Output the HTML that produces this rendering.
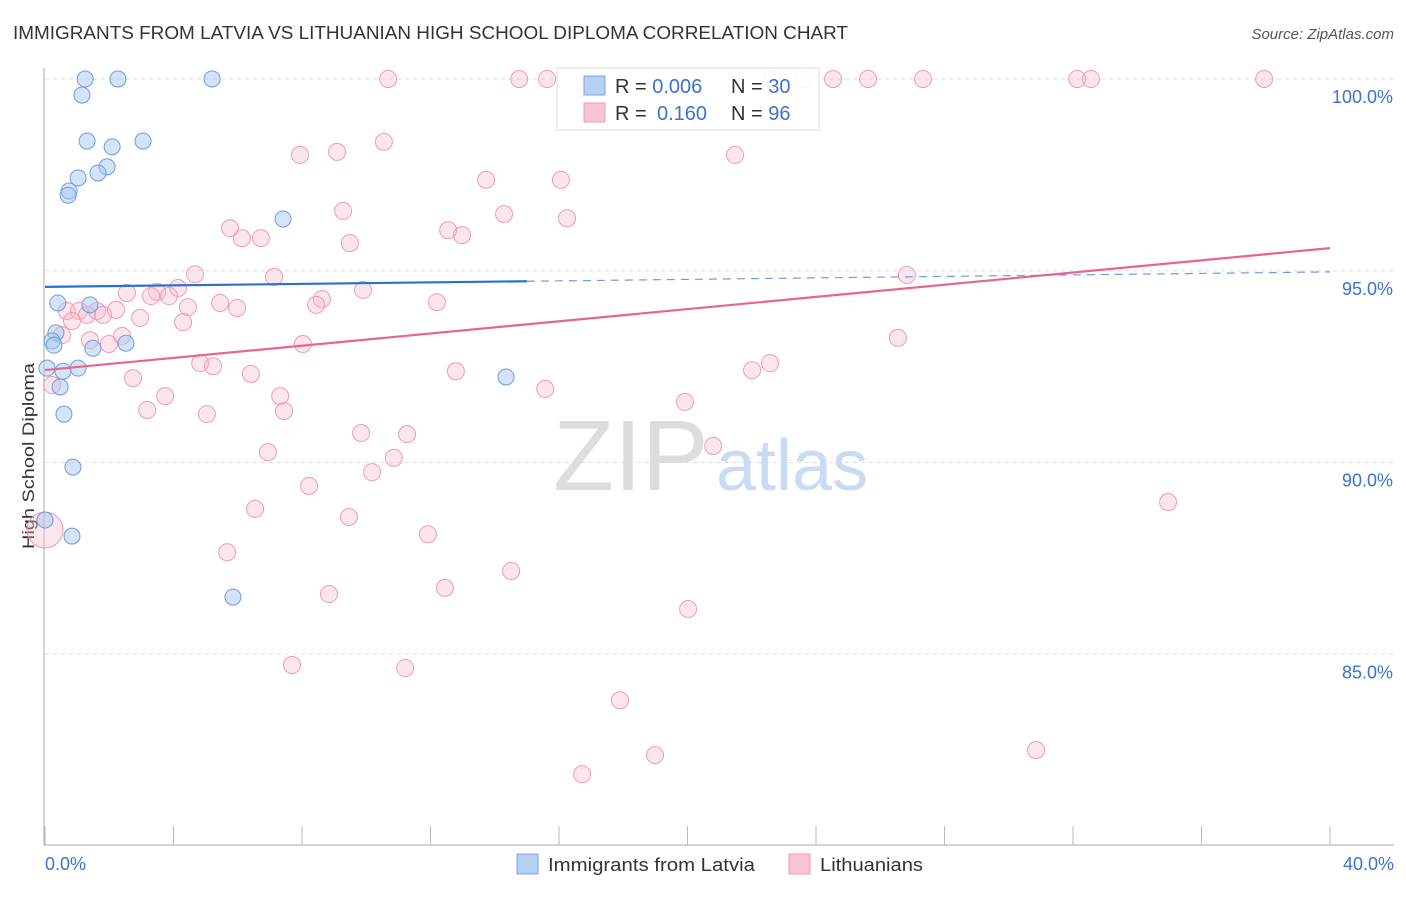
<!DOCTYPE html>
<html><head><meta charset="utf-8"><style>
body{margin:0;background:#fff;font-family:"Liberation Sans",sans-serif;}
svg text{font-family:"Liberation Sans",sans-serif;}
</style></head><body>
<svg id="chart" width="1406" height="892" xmlns="http://www.w3.org/2000/svg">
<text x="13" y="39" font-size="18" fill="#333" textLength="835" lengthAdjust="spacingAndGlyphs">IMMIGRANTS FROM LATVIA VS LITHUANIAN HIGH SCHOOL DIPLOMA CORRELATION CHART</text>
<text x="1394" y="39" font-size="15" fill="#555" text-anchor="end" font-style="italic">Source: ZipAtlas.com</text>
<text transform="translate(34,456) rotate(-90)" font-size="17" fill="#333" text-anchor="middle" textLength="186" lengthAdjust="spacingAndGlyphs">High School Diploma</text>
<g id="grid"></g>
<text x="553" y="490" font-size="100" fill="#ddd" font-family="Liberation Serif">ZIP</text>
<text x="716" y="490" font-size="72" fill="#c9daf2">atlas</text>
<g id="axes"></g>
<g id="marks"></g>
<g id="trends"></g>
<g>
<rect x="557" y="68" width="262" height="62" fill="#fff" fill-opacity="0.9" stroke="#ddd"/>
<rect x="584" y="76" width="21" height="19" fill="#b6d0f3" stroke="#7aa6e0"/>
<rect x="584" y="103" width="21" height="19" fill="#fac4d4" stroke="#f09ab5"/>
<text x="615" y="93" font-size="20" fill="#333">R = <tspan fill="#3b72d0">0.006</tspan><tspan x="731">N = </tspan><tspan fill="#3b72d0">30</tspan></text>
<text x="615" y="120" font-size="20" fill="#333">R = <tspan x="657" fill="#3b72d0">0.160</tspan><tspan x="731">N = </tspan><tspan fill="#3b72d0">96</tspan></text>
</g>
<g>
<rect x="517" y="854" width="21" height="20" fill="#b6d0f3" stroke="#7aa6e0"/>
<text x="548" y="871" font-size="18" fill="#333" textLength="207" lengthAdjust="spacingAndGlyphs">Immigrants from Latvia</text>
<rect x="789" y="854" width="21" height="20" fill="#fac4d4" stroke="#f09ab5"/>
<text x="820" y="871" font-size="18" fill="#333" textLength="103" lengthAdjust="spacingAndGlyphs">Lithuanians</text>
</g>
</svg>
<script>
const blueX=[1.25,2.27,5.2,1.15,1.31,3.05,2.09,1.93,1.65,1.03,0.75,0.72,7.41,0.4,1.4,0.34,0.22,0.28,1.49,2.52,0.56,1.03,0.47,0.59,0.87,0.84,0,14.35,5.85,0.06];
const blueY=[100,100,100,99.58,98.38,98.38,98.23,97.71,97.55,97.42,97.08,96.97,96.35,94.16,94.11,93.38,93.17,93.06,92.98,93.11,92.38,92.46,91.97,91.26,89.88,88.08,88.5,92.23,86.49,92.46];
const pinkX=[10.68,14.76,15.63,22.63,23.6,24.53,25.62,27.33,32.13,32.56,37.95,10.55,7.94,9.09,21.48,13.73,16.06,9.28,14.29,16.25,5.76,12.55,12.98,6.13,6.72,9.49,4.67,7.13,26.83,2.55,4.14,3.49,3.3,3.86,8.62,9.9,12.2,5.45,5.98,4.45,8.44,0.68,1.06,1.31,1.62,1.81,2.21,2.96,0.84,4.3,0.53,1.4,1.99,2.4,8.03,26.55,4.83,5.23,6.41,2.74,12.79,22.01,22.57,15.57,0.22,3.74,7.32,3.18,5.04,7.44,19.92,9.84,11.27,20.8,6.94,10.86,10.18,8.22,6.54,9.46,34.96,11.92,5.67,14.51,12.45,8.84,20.02,7.69,11.21,17.9,18.99,30.85,16.72,0];
const pinkY=[100,100,100,100,100,100,100,100,100,100,100,98.36,98.02,98.1,98.02,97.37,97.37,96.56,96.48,96.37,96.11,96.06,95.93,95.85,95.85,95.72,94.91,94.84,94.89,94.42,94.55,94.45,94.34,94.34,94.26,94.5,94.18,94.16,94.03,94.05,94.11,93.95,93.95,93.85,93.95,93.85,93.98,93.77,93.69,93.66,93.32,93.19,93.09,93.3,93.09,93.25,92.59,92.51,92.31,92.2,92.38,92.41,92.59,91.92,92.02,91.73,91.73,91.37,91.26,91.34,91.58,90.77,90.74,90.43,90.27,90.12,89.75,89.39,88.79,88.58,88.97,88.13,87.66,87.17,86.73,86.57,86.18,84.72,84.64,83.8,82.37,82.5,81.87,88.24];
const yTicks=[100,95,90,85];
const yTickLabels=["100.0%","95.0%","90.0%","85.0%"];
const xTicks=[0,4,8,12,16,20,24,28,32,36,40];
const trendBlue=[94.58,94.97];
const trendPink=[92.41,95.59];

const NS="http://www.w3.org/2000/svg";
const X=v=>45+v*(1285/40);
const Y=v=>79+(100-v)*38.35;
function mk(tag,attrs,parent){const e=document.createElementNS(NS,tag);for(const k in attrs)e.setAttribute(k,attrs[k]);parent.appendChild(e);return e;}
const grid=document.getElementById('grid'),axes=document.getElementById('axes'),marks=document.getElementById('marks'),trends=document.getElementById('trends');
yTicks.forEach((t,i)=>{
 const l=mk('line',{x1:45,x2:1394,y1:Y(t),y2:Y(t),stroke:'#ddd','stroke-dasharray':'4,4'},grid);
 
 
 const tx=mk('text',{x:1393,y:Y(t)+24,'font-size':18,fill:'#3b72d0','text-anchor':'end'},axes);
 tx.textContent=yTickLabels[i];
 
 
});
mk('line',{x1:44,x2:44,y1:68,y2:845,stroke:'#aaa'},axes);
mk('line',{x1:44,x2:1394,y1:845,y2:845,stroke:'#aaa'},axes);
xTicks.forEach(t=>{
 const l=mk('line',{x1:X(t),x2:X(t),y1:826,y2:845,stroke:'#bbb'},axes);
 
 
});
const x0=mk('text',{x:45,y:870,'font-size':18,fill:'#3b72d0'},axes);x0.textContent=xTicks[0].toFixed(1)+'%';


const x1=mk('text',{x:1394,y:870,'font-size':18,fill:'#3b72d0','text-anchor':'end'},axes);x1.textContent=xTicks[xTicks.length-1].toFixed(1)+'%';



pinkX.forEach((v,i)=>{
 const big=(v===0);
 const c=mk('circle',{cx:X(v),cy:Y(pinkY[i]),r:big?18:8.5,fill:'#f7b8cc','fill-opacity':0.35,stroke:'#f09ab5','stroke-width':1},marks);
 
 
});
blueX.forEach((v,i)=>{
 const c=mk('circle',{cx:X(v),cy:Y(blueY[i]),r:8,fill:'#a9c8f0','fill-opacity':0.5,stroke:'#6d9ddc','stroke-width':1},marks);
 
 
});
const bAt=x=>trendBlue[0]+(trendBlue[1]-trendBlue[0])*x/40;
const tb1=mk('line',{x1:X(0),y1:Y(bAt(0)),x2:X(15),y2:Y(bAt(15)),stroke:'#2a6fd6','stroke-width':2.2},trends);


const tb2=mk('line',{x1:X(15),y1:Y(bAt(15)),x2:X(40),y2:Y(bAt(40)),stroke:'#6d9ddc','stroke-width':1.2,'stroke-dasharray':'8,6'},trends);


const tp=mk('line',{x1:X(0),y1:Y(trendPink[0]),x2:X(40),y2:Y(trendPink[1]),stroke:'#e8648f','stroke-width':2.2},trends);


</script>
</body></html>
